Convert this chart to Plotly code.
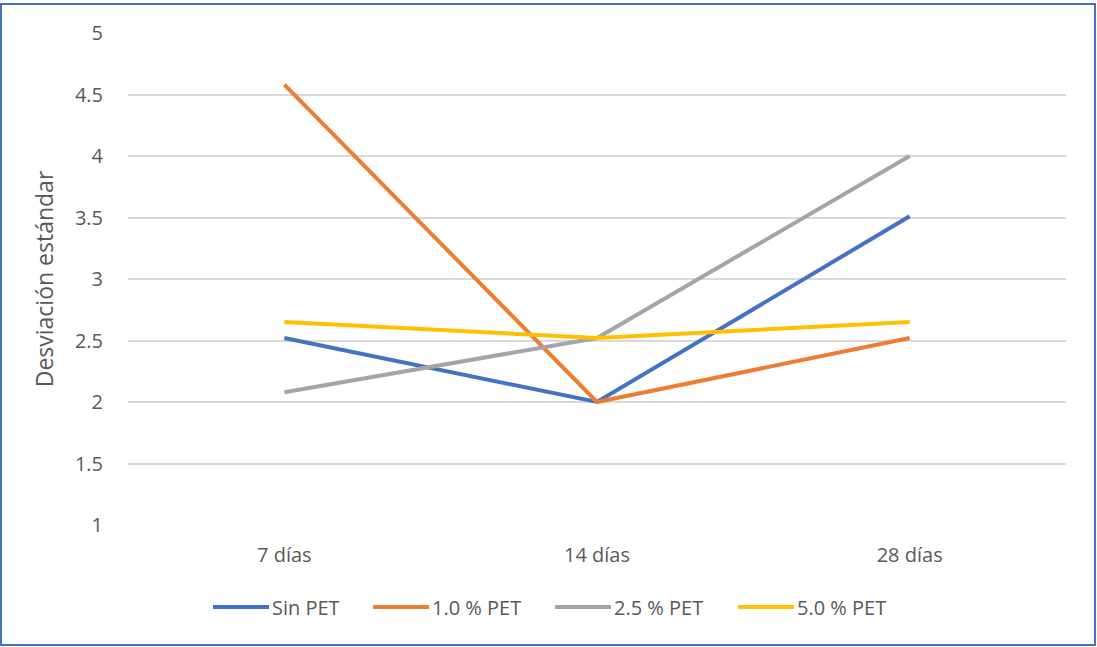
import plotly.graph_objects as go

categories = ["7 días", "14 días", "28 días"]
series_names = ["Sin PET", "1.0 % PET", "2.5 % PET", "5.0 % PET"]
sin_pet = [2.52, 2.00, 3.51]
pet_10 = [4.58, 2.00, 2.52]
pet_25 = [2.08, 2.52, 4.00]
pet_50 = [2.65, 2.52, 2.65]
y_ticks = [1, 1.5, 2, 2.5, 3, 3.5, 4, 4.5, 5]

colors = ["#4472C4", "#ED7D31", "#A5A5A5", "#FFC000"]
values = [sin_pet, pet_10, pet_25, pet_50]

fig = go.Figure()
for name, vals, col in zip(series_names, values, colors):
    fig.add_trace(go.Scatter(x=categories, y=vals, name=name, mode="lines",
                             line=dict(color=col, width=4), showlegend=False))

W, H = 1097, 647
L, R, T, B = 128, 31, 33, 122
pw, ph = W - L - R, H - T - B

def px(x):
    return (x - L) / pw

def py(y):
    return (H - B - y) / ph

shapes = [dict(type="rect", xref="paper", yref="paper",
               x0=px(1), x1=px(1095), y0=py(645), y1=py(4),
               line=dict(color="#4472C4", width=2), fillcolor="rgba(0,0,0,0)",
               layer="below")]
annotations = []

# manual legend (Excel style: long line swatch followed by text)
legend_y = 607
legend_starts = [213, 373, 555, 738]
swatch_len = 56
for name, col, x0 in zip(series_names, colors, legend_starts):
    shapes.append(dict(type="line", xref="paper", yref="paper",
                       x0=px(x0), x1=px(x0 + swatch_len), y0=py(legend_y), y1=py(legend_y),
                       line=dict(color=col, width=4)))
    annotations.append(dict(text=name, xref="paper", yref="paper",
                            x=px(x0 + swatch_len + 1), y=py(legend_y),
                            xanchor="left", yanchor="middle", showarrow=False,
                            font=dict(size=20, color="#595959")))

fig.update_layout(
    width=W, height=H,
    margin=dict(l=L, r=R, t=T, b=B),
    paper_bgcolor="white", plot_bgcolor="white",
    font=dict(family="Open Sans, Liberation Sans, sans-serif", size=20, color="#595959"),
    xaxis=dict(type="category", range=[-0.5, 2.5], showgrid=False, showline=False,
               zeroline=False, ticks="", ticklabelstandoff=16, tickfont=dict(size=20)),
    yaxis=dict(range=[1, 5], tickvals=y_ticks, ticktext=[f"{v:g}" for v in y_ticks],
               showgrid=True, gridcolor="#D9D9D9", gridwidth=1.5, zeroline=False,
               showline=False, ticks="", ticklabelstandoff=24, tickfont=dict(size=20),
               title=dict(text="Desviación estándar", font=dict(size=23, color="#595959"),
                          standoff=14)),
    showlegend=False,
    shapes=shapes,
    annotations=annotations,
)

fig.write_html("out.html")
